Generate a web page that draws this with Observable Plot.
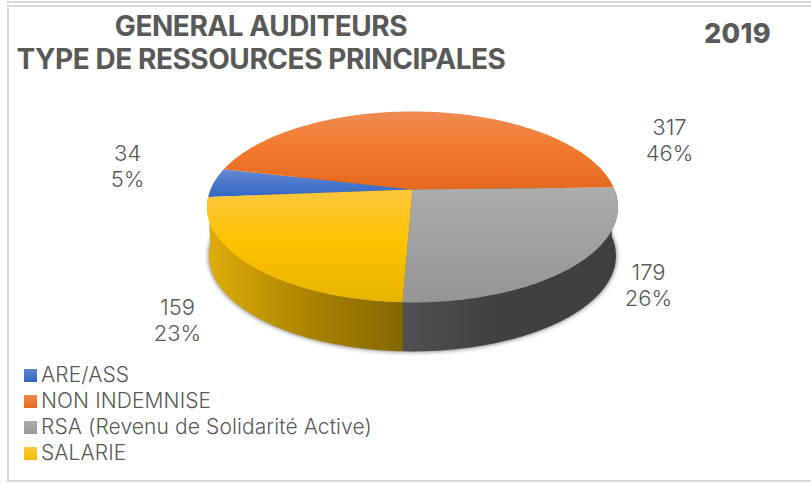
<!DOCTYPE html>
<html><head><meta charset="utf-8">
<script src="https://cdn.jsdelivr.net/npm/d3@7"></script>
<script src="https://cdn.jsdelivr.net/npm/@observablehq/plot@0.6"></script>
<style>
html,body{margin:0;background:#fff}
#page{position:relative;width:811px;height:484px;overflow:hidden;font-family:Inter,Lato,sans-serif;color:#595959}
#page svg{position:absolute;left:0;top:0;background:transparent}
.line{position:absolute;background:#d9d9d9}
#title{position:absolute;left:0;width:522px;top:10px;text-align:center;font-weight:700;font-size:28px;line-height:33px;letter-spacing:-.45px;white-space:nowrap}
#year{position:absolute;left:704px;top:18px;font-weight:800;font-size:27px;line-height:32px;letter-spacing:.3px}
#legend{position:absolute;left:24px;top:362px;font-size:21px;font-weight:300;line-height:26px;letter-spacing:.1px}
#legend div{display:flex;align-items:center;white-space:nowrap}
#legend i{display:inline-block;width:13px;height:13px;margin-right:4px}
</style></head><body>
<div id="page">
<div class="line" style="left:7px;right:0;top:1px;height:2px"></div>
<div class="line" style="left:7px;right:0;top:5px;height:2px"></div>
<div class="line" style="left:7px;width:2px;top:5px;height:477px"></div>
<div class="line" style="left:7px;right:0;top:480px;height:2px"></div>
<div id="title">GENERAL AUDITEURS<br>TYPE DE RESSOURCES PRINCIPALES</div>
<div id="year">2019</div>
<div id="legend"></div>
</div>
<script>
const categories = ["ARE/ASS", "NON INDEMNISE", "RSA (Revenu de Solidarité Active)", "SALARIE"];
const counts = [34, 317, 179, 159];
const percents = [5, 46, 26, 23];
const topFills = ["url(#gBlue)", "url(#gOrange)", "url(#gGray)", "url(#gYellow)"];
const swatches = ["linear-gradient(#5a85d0,#3264c0)", "linear-gradient(#ef8a4e,#e56a1e)", "linear-gradient(#adadad,#979797)", "linear-gradient(#fdc93c,#f5bd00)"];
const labelOffsets = [[127, 165], [669, 139], [648, 284], [177, 319]];

// Perspective of the tilted disc
const k = 0.183, deg = Math.PI / 180, START = -94.6 * deg;
const pie = d3.pie().sort(null).startAngle(START).endAngle(START + 2 * Math.PI);
const slices = pie(counts);

const top3d = (a, r = 1) => {
  const u = r * Math.sin(a), v = r * Math.cos(a), w = 1 + k * v;
  return [u / w, v / w];
};
const bottom3d = (a) => { const [x, y] = top3d(a); return [x * 0.99, y - 0.53]; };
const arc = (a0, a1, f) => {
  const n = Math.max(2, Math.ceil(Math.abs(a1 - a0) / deg));
  return d3.range(n + 1).map(i => f(a0 + (a1 - a0) * i / n));
};
const poly = (pts, o) => Plot.line(pts, {x: d => d[0], y: d => d[1], stroke: "none", ...o});

const slicePts = s => [[0, 0], ...arc(s.startAngle, s.endAngle, top3d)];
const sidePts = s => [...arc(s.startAngle, s.endAngle, top3d), ...arc(s.endAngle, s.startAngle, bottom3d)];
const discBottom = arc(0, 2 * Math.PI, bottom3d);

const svg = Plot.plot({
  width: 811, height: 484, margin: 0,
  x: {domain: [-1, 1], range: [210, 614], axis: null},
  y: {domain: [-1, 1], range: [281.3, 96.7], axis: null},
  marks: [
    poly(discBottom, {fill: "#333", imageFilter: "blur(2.5px)", fillOpacity: 0.8}),
    poly(sidePts(slices[2]), {fill: "url(#gGraySide)"}),
    poly(sidePts(slices[3]), {fill: "url(#gYellowSide)"}),
    ...slices.map((s, i) => poly(slicePts(s), {fill: topFills[i]})),
    ...slices.map((s, i) => Plot.text([s], {
      text: d => `${counts[d.index]}\n${percents[d.index]}%`,
      frameAnchor: "top-left", textAnchor: "middle", lineAnchor: "middle",
      dx: labelOffsets[i][0], dy: labelOffsets[i][1],
      fontSize: 22, fontWeight: 300, lineHeight: 1.18, fill: "#595959", fontFamily: "Inter, Lato, sans-serif"
    }))
  ]
});

const defs = d3.select(svg).append("defs");
function grad(id, stops, x1, y1, x2, y2) {
  const g = defs.append("linearGradient").attr("id", id).attr("gradientUnits", "userSpaceOnUse")
    .attr("x1", x1).attr("y1", y1).attr("x2", x2).attr("y2", y2);
  stops.forEach(([o, c]) => g.append("stop").attr("offset", o).attr("stop-color", c));
}
grad("gOrange", [[0, "#ee8b52"], [.45, "#f17a2e"], [1, "#e3691e"]], 0, 111, 0, 190);
grad("gBlue", [[0, "#6288d0"], [1, "#2f63c4"]], 0, 170, 0, 198);
grad("gGray", [[0, "#acacac"], [1, "#959595"]], 0, 187, 0, 302);
grad("gYellow", [[0, "#fcc63e"], [.45, "#fec300"], [1, "#e6b400"]], 0, 190, 0, 302);
grad("gYellowSide", [[0, "#dfac0a"], [.5, "#ab8400"], [1, "#836600"]], 208, 0, 404, 0);
grad("gGraySide", [[0, "#505050"], [.4, "#414141"], [1, "#3f3f3f"]], 404, 0, 616, 0);

document.getElementById("page").prepend(svg);

const legend = d3.select("#legend");
categories.forEach((c, i) => {
  const row = legend.append("div");
  row.append("i").style("background", swatches[i]);
  row.append("span").text(c);
});
</script>
</body></html>
